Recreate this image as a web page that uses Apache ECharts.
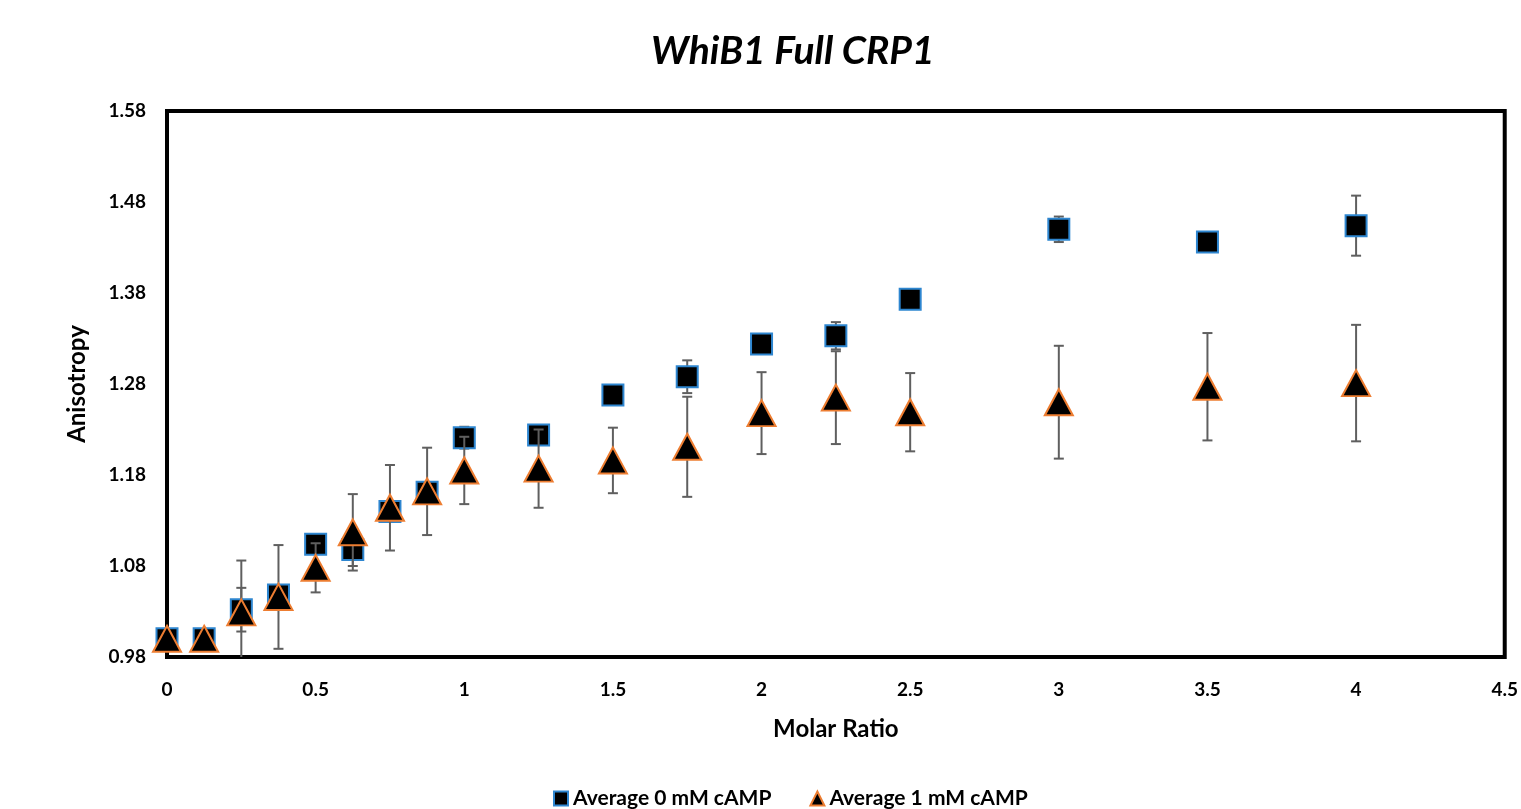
<!DOCTYPE html>
<html>
<head>
<meta charset="utf-8">
<title>WhiB1 Full CRP1</title>
<script src="https://cdn.jsdelivr.net/npm/echarts@6/dist/echarts.min.js"></script>
<style>
  html, body { margin: 0; padding: 0; background: #fff; }
  #chart { width: 1521px; height: 809px; }
</style>
</head>
<body>
<div id="chart"></div>
<script>
// molar ratios
const ratios0 = [0, 0.125, 0.25, 0.375, 0.5, 0.625, 0.75, 0.875, 1, 1.25, 1.5, 1.75, 2, 2.25, 2.5, 3, 3.5, 4];
const ratios1 = [0, 0.125, 0.25, 0.375, 0.5, 0.625, 0.75, 0.875, 1, 1.25, 1.5, 1.75, 2, 2.25, 2.5, 3, 3.5, 4];
// Average 0 mM cAMP
const aniso0 = [1.0, 1.0, 1.032, 1.048, 1.104, 1.098, 1.140, 1.161, 1.221, 1.224, 1.268, 1.288, 1.324, 1.333, 1.373, 1.450, 1.436, 1.454];
const err0   = [0, 0, 0.024, 0.006, 0.005, 0.018, 0.006, 0.004, 0.012, 0.004, 0.004, 0.018, 0.004, 0.015, 0.004, 0.014, 0.003, 0.033];
// Average 1 mM cAMP
const aniso1 = [1.0, 1.0, 1.029, 1.046, 1.078, 1.117, 1.144, 1.162, 1.185, 1.187, 1.196, 1.211, 1.248, 1.265, 1.249, 1.260, 1.277, 1.281];
const err1   = [0, 0, 0.057, 0.057, 0.027, 0.042, 0.047, 0.048, 0.037, 0.043, 0.036, 0.055, 0.045, 0.051, 0.043, 0.062, 0.059, 0.064];
const yTicks = [0.98, 1.08, 1.18, 1.28, 1.38, 1.48, 1.58];

const FONT = 'Lato';

const chart = echarts.init(document.getElementById('chart'));

// error bar drawing
const renderErr = (params, api) => {
  const x = api.value(0);
  const lo = api.coord([x, api.value(1)]);
  const hi = api.coord([x, api.value(2)]);
  const w = 5;
  const st = { stroke: '#5f5f5f', lineWidth: 2 };
  return {
    type: 'group',
    children: [
      { type: 'line', shape: { x1: hi[0], y1: hi[1], x2: lo[0], y2: lo[1] }, style: st },
      { type: 'line', shape: { x1: hi[0] - w, y1: hi[1], x2: hi[0] + w, y2: hi[1] }, style: st },
      { type: 'line', shape: { x1: lo[0] - w, y1: lo[1], x2: lo[0] + w, y2: lo[1] }, style: st }
    ]
  };
};

const errData = (xs, ys, es) => xs.map((x, i) => [x, ys[i] - es[i], ys[i] + es[i]]);

const option = {
  animation: false,
  textStyle: { fontFamily: FONT },
  title: {
    text: 'WhiB1 Full CRP1',
    left: 646,
    top: 27,
    textStyle: { fontSize: 39, fontWeight: 'bold', fontStyle: 'italic', color: '#000', fontFamily: FONT }
  },
  legend: {
    bottom: -5,
    left: 548,
    itemWidth: 14,
    itemHeight: 14,
    itemGap: 38,
    textStyle: { fontSize: 21, fontWeight: 'bold', color: '#000', fontFamily: FONT },
    data: ['Average 0 mM cAMP', 'Average 1 mM cAMP']
  },
  grid: {
    left: 167,
    right: 13,
    top: 111,
    bottom: 152,
    show: true,
    borderColor: '#000',
    borderWidth: 4
  },
  xAxis: {
    type: 'value',
    min: 0,
    max: 4.5,
    interval: 0.5,
    name: 'Molar Ratio',
    nameLocation: 'middle',
    nameGap: 60,
    nameTextStyle: { fontSize: 24, fontWeight: 'bold', color: '#000' },
    axisLine: { show: false },
    axisTick: { show: false },
    splitLine: { show: false },
    axisLabel: { fontSize: 19, fontWeight: 'bold', color: '#000', margin: 23, showMaxLabel: true }
  },
  yAxis: {
    type: 'value',
    min: 0.98,
    max: 1.58,
    name: 'Anisotropy',
    nameLocation: 'middle',
    nameGap: 78,
    nameTextStyle: { fontSize: 24, fontWeight: 'bold', color: '#000' },
    axisLine: { show: false },
    axisTick: { show: false },
    splitLine: { show: false },
    axisLabel: {
      fontSize: 19, fontWeight: 'bold', color: '#000', margin: 21,
      customValues: yTicks,
      formatter: v => v.toFixed(2)
    }
  },
  series: [
    {
      name: 'err0',
      type: 'custom',
      renderItem: renderErr,
      clip: true,
      z: 2,
      encode: { x: 0, y: [1, 2] },
      data: errData(ratios0, aniso0, err0)
    },
    {
      name: 'Average 0 mM cAMP',
      type: 'scatter',
      symbol: 'rect',
      symbolSize: 21,
      z: 3,
      itemStyle: { color: '#000', borderColor: '#2E86D0', borderWidth: 2, opacity: 1 },
      data: ratios0.map((x, i) => [x, aniso0[i]])
    },
    {
      name: 'err1',
      type: 'custom',
      renderItem: renderErr,
      clip: true,
      z: 4,
      encode: { x: 0, y: [1, 2] },
      data: errData(ratios1, aniso1, err1)
    },
    {
      name: 'Average 1 mM cAMP',
      type: 'scatter',
      symbol: 'triangle',
      symbolSize: [28, 26],
      z: 5,
      itemStyle: { color: '#000', borderColor: '#ED7D31', borderWidth: 2, opacity: 1 },
      data: ratios1.map((x, i) => [x, aniso1[i]])
    }
  ]
};

chart.setOption(option);
</script>
</body>
</html>
